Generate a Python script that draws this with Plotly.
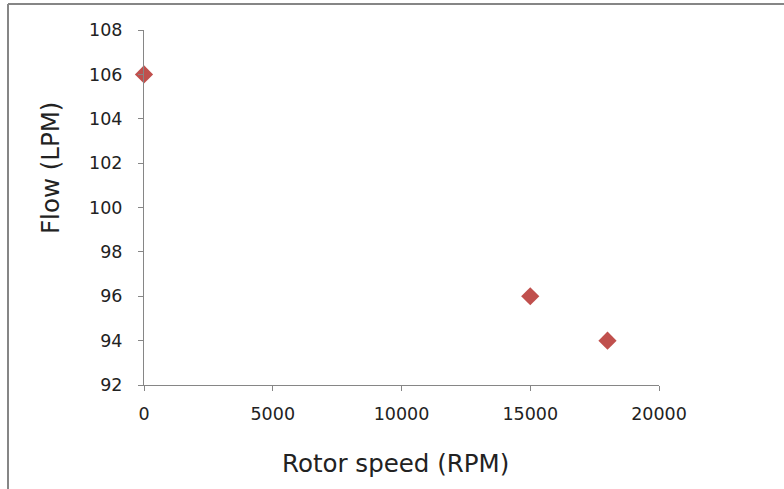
import plotly.graph_objects as go

rotor_speed = [0, 15000, 18000]
flow = [106, 96, 94]
x_ticks = [0, 5000, 10000, 15000, 20000]
y_ticks = [92, 94, 96, 98, 100, 102, 104, 106, 108]

W, H = 784, 489
L, R, T, B = 144, 125, 30, 104
pw, ph = W - L - R, H - T - B

fig = go.Figure(go.Scatter(
    x=rotor_speed, y=flow, mode="markers", cliponaxis=False,
    marker=dict(symbol="diamond", size=14, color="#C0504D", line=dict(width=0)),
))

axis_common = dict(
    showgrid=False, zeroline=False, showline=True, linecolor="#868686", linewidth=1,
    ticks="outside", ticklen=5, tickcolor="#868686",
    tickfont=dict(family="DejaVu Sans", size=17.5, color="#222222"),
)
fig.update_xaxes(range=[0, 20000], tickvals=x_ticks, ticktext=[str(v) for v in x_ticks],
                 ticklabelstandoff=8, **axis_common)
fig.update_yaxes(range=[92, 108], tickvals=y_ticks, ticktext=[str(v) for v in y_ticks],
                 ticklabelstandoff=12, **axis_common)

def px(xp):
    return (xp - L) / pw

def py(yp):
    return 1 - (yp - T) / ph

fig.update_layout(
    width=W, height=H, margin=dict(l=L, r=R, t=T, b=B),
    paper_bgcolor="white", plot_bgcolor="white", showlegend=False,
    shapes=[
        dict(type="line", xref="paper", yref="paper", x0=px(8), x1=px(8), y0=py(4), y1=py(495),
             line=dict(color="#868686", width=2)),
        dict(type="line", xref="paper", yref="paper", x0=px(8), x1=px(790), y0=py(4), y1=py(4),
             line=dict(color="#868686", width=2)),
    ],
    annotations=[
        dict(text="Rotor speed (RPM)", xref="paper", yref="paper", x=px(395), y=py(463),
             showarrow=False, font=dict(family="DejaVu Sans", size=24.5, color="#222222"),
             xanchor="center", yanchor="middle"),
        dict(text="Flow (LPM)", xref="paper", yref="paper", x=px(51), y=py(168),
             showarrow=False, textangle=-90, font=dict(family="DejaVu Sans", size=24.5, color="#222222"),
             xanchor="center", yanchor="middle"),
    ],
)

fig.write_html("out.html", config={"displayModeBar": False},
               post_script="document.body.style.margin='0px';")
